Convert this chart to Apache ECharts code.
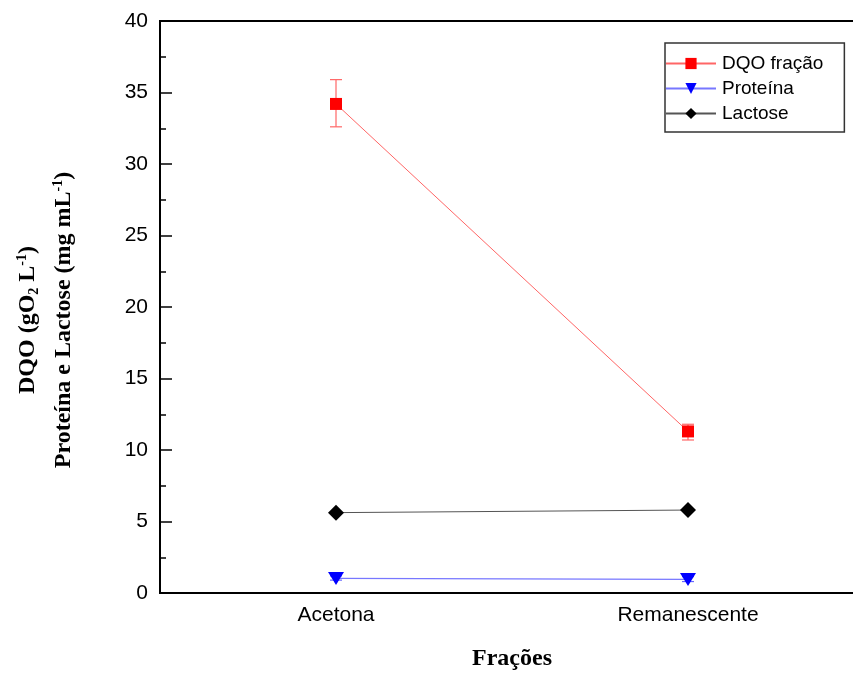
<!DOCTYPE html>
<html>
<head>
<meta charset="utf-8">
<script src="https://cdn.jsdelivr.net/npm/echarts@6/dist/echarts.min.js"></script>
<style>html,body{margin:0;padding:0;background:#fff}#c{width:853px;height:673px}</style>
</head>
<body>
<div id="c"></div>
<script>
const categories = ['Acetona', 'Remanescente'];
const dqo = [34.2, 11.3];
const dqoLow = [32.6, 10.7];
const dqoHigh = [35.9, 11.8];
const proteina = [1.02, 0.95];
const proteinaLow = [0.9, 0.8];
const proteinaHigh = [1.2, 1.15];
const lactose = [5.62, 5.8];
const yTicks = [0, 5, 10, 15, 20, 25, 30, 35, 40];

const chart = echarts.init(document.getElementById('c'));

function errSeries(name, low, high, color) {
  return {
    type: 'custom',
    name: name + '_err',
    z: 3,
    data: categories.map((c, i) => [i, low[i], high[i]]),
    renderItem: function (params, api) {
      const lo = api.coord([api.value(0), api.value(1)]);
      const hi = api.coord([api.value(0), api.value(2)]);
      const w = 6;
      const st = { stroke: color, lineWidth: 1.2 };
      return {
        type: 'group',
        children: [
          { type: 'line', shape: { x1: lo[0], y1: lo[1], x2: hi[0], y2: hi[1] }, style: st },
          { type: 'line', shape: { x1: lo[0] - w, y1: lo[1], x2: lo[0] + w, y2: lo[1] }, style: st },
          { type: 'line', shape: { x1: hi[0] - w, y1: hi[1], x2: hi[0] + w, y2: hi[1] }, style: st }
        ]
      };
    }
  };
}

const serif = 'Liberation Serif, Times New Roman, serif';
const richTitle = {
  b: { fontFamily: serif, fontWeight: 'bold', fontSize: 24, color: '#000', lineHeight: 26 },
  sub: { fontFamily: serif, fontWeight: 'bold', fontSize: 14, color: '#000', lineHeight: 26, verticalAlign: 'bottom' },
  sup: { fontFamily: serif, fontWeight: 'bold', fontSize: 14, color: '#000', lineHeight: 26, verticalAlign: 'top' }
};

const option = {
  animation: false,
  backgroundColor: '#fff',
  grid: { left: 160, top: 21, right: -11, bottom: 80, show: true, borderColor: '#000', borderWidth: 2, containLabel: false, outerBoundsMode: 'none' },
  legend: {
    left: 665, top: 43,
    orient: 'vertical',
    data: ['DQO fração', 'Proteína', 'Lactose'],
    itemWidth: 50, itemHeight: 14, itemGap: 6,
    borderColor: '#333', borderWidth: 1.5,
    padding: [11, 21, 9, 0],
    textStyle: { fontFamily: 'Liberation Sans, Arial', fontSize: 19, color: '#000', padding: [0, 0, 0, 1] }
  },
  graphic: [
    { type: 'text', x: 28, y: 320, rotation: Math.PI / 2, style: { text: '{b|DQO (gO}{sub|2}{b| L}{sup|-1}{b|)}', rich: richTitle, align: 'center', verticalAlign: 'middle' } },
    { type: 'text', x: 64, y: 320, rotation: Math.PI / 2, style: { text: '{b|Proteína e Lactose (mg mL}{sup|-1}{b|)}', rich: richTitle, align: 'center', verticalAlign: 'middle' } }
  ],
  xAxis: {
    type: 'category',
    data: categories,
    boundaryGap: true,
    name: 'Frações',
    nameLocation: 'middle',
    nameGap: 54,
    nameTextStyle: { fontFamily: serif, fontWeight: 'bold', fontSize: 24, color: '#000' },
    axisLine: { lineStyle: { color: '#000', width: 2 } },
    axisTick: { interval: 0, inside: false, length: -8, lineStyle: { color: '#000', width: 1.5 } },
    axisLabel: { fontFamily: 'Liberation Sans, Arial', fontSize: 21, color: '#000', margin: 12 }
  },
  yAxis: {
    type: 'value',
    min: 0, max: 40, interval: 5,
    axisLine: { show: true, lineStyle: { color: '#000', width: 2 } },
    axisTick: { show: true, inside: false, length: -12, lineStyle: { color: '#000', width: 1.5 } },
    minorTick: { show: true, splitNumber: 2, length: -6, lineStyle: { color: '#000', width: 1.5 } },
    splitLine: { show: false },
    axisLabel: {
      fontFamily: 'Liberation Sans, Arial', fontSize: 21, color: '#000', margin: 12,
      formatter: function (v) { return yTicks.indexOf(v) >= 0 ? String(v) : ''; }
    }
  },
  series: [
    errSeries('DQO fração', dqoLow, dqoHigh, '#ff6666'),
    errSeries('Proteína', proteinaLow, proteinaHigh, '#6666ff'),
    {
      name: 'DQO fração', type: 'line', data: dqo, z: 5,
      symbol: 'rect', symbolSize: 12,
      itemStyle: { color: '#ff0000' },
      lineStyle: { color: '#ff6666', width: 1 }
    },
    {
      name: 'Proteína', type: 'line', data: proteina, z: 5,
      symbol: 'triangle', symbolRotate: 180, symbolSize: [16, 13],
      itemStyle: { color: '#0000ff' },
      lineStyle: { color: '#7777ff', width: 1.2 }
    },
    {
      name: 'Lactose', type: 'line', data: lactose, z: 5,
      symbol: 'diamond', symbolSize: [16, 16],
      itemStyle: { color: '#000' },
      lineStyle: { color: '#555', width: 1 }
    }
  ]
};
chart.setOption(option);
</script>
</body>
</html>
